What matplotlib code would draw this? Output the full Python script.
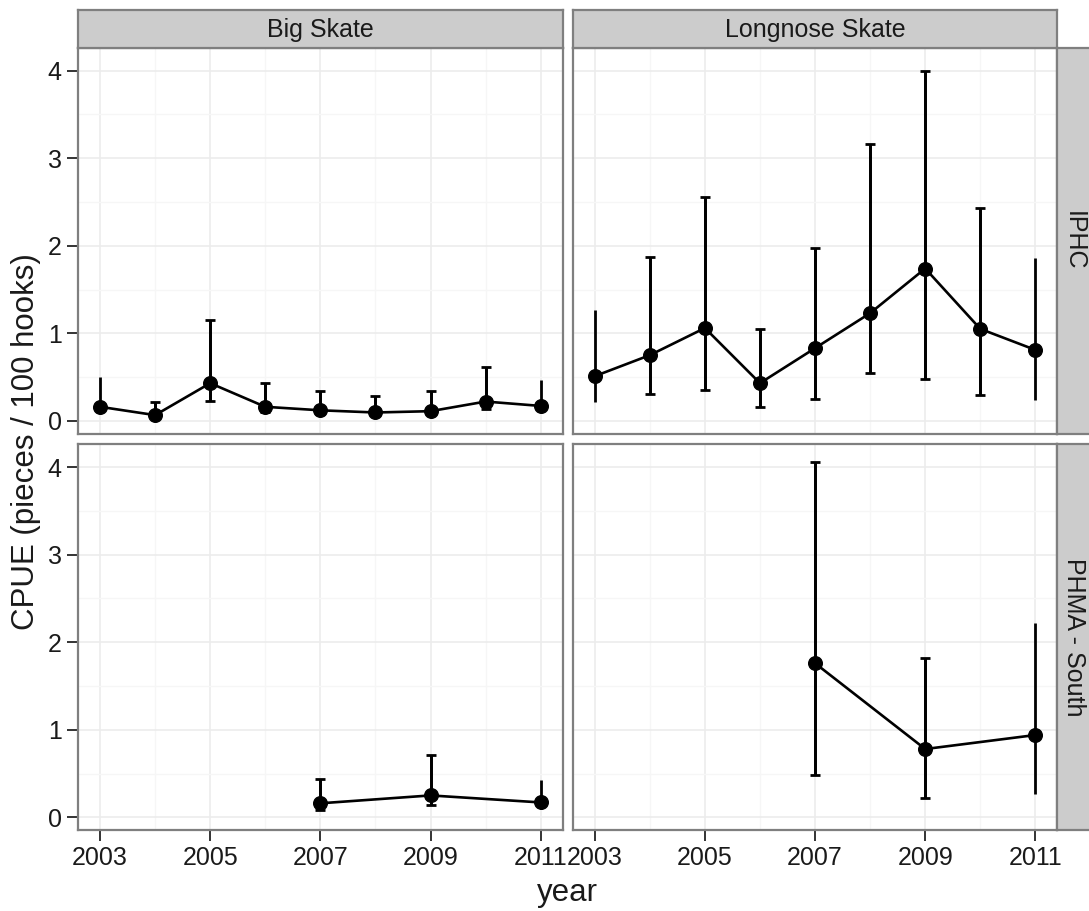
import matplotlib
matplotlib.use('Agg')
import matplotlib.pyplot as plt
from matplotlib.ticker import MultipleLocator, FixedLocator
import numpy as np

plt.rcParams['font.family'] = ['Liberation Sans', 'DejaVu Sans']

# ---------------- data ----------------
years = [2003, 2004, 2005, 2006, 2007, 2008, 2009, 2010, 2011]
big_iphc = [0.16, 0.065, 0.43, 0.16, 0.12, 0.095, 0.11, 0.22, 0.17]
big_iphc_lo = [0.10, 0.04, 0.23, 0.10, 0.08, 0.065, 0.08, 0.13, 0.10]
big_iphc_hi = [0.50, 0.21, 1.15, 0.43, 0.34, 0.28, 0.34, 0.62, 0.47]

long_iphc = [0.51, 0.75, 1.06, 0.43, 0.83, 1.23, 1.74, 1.05, 0.81]
long_iphc_lo = [0.21, 0.31, 0.35, 0.16, 0.25, 0.55, 0.48, 0.30, 0.24]
long_iphc_hi = [1.27, 1.87, 2.56, 1.05, 1.98, 3.16, 4.00, 2.43, 1.86]

phma_years = [2007, 2009, 2011]
big_phma = [0.16, 0.25, 0.17]
big_phma_lo = [0.08, 0.14, 0.09]
big_phma_hi = [0.44, 0.71, 0.43]

long_phma = [1.76, 0.78, 0.94]
long_phma_lo = [0.48, 0.22, 0.27]
long_phma_hi = [4.06, 1.82, 2.22]

col_labels = ['Big Skate', 'Longnose Skate']
row_labels = ['IPHC', 'PHMA - South']
x_ticks = [2003, 2005, 2007, 2009, 2011]
y_ticks = [0, 1, 2, 3, 4]

panels = {
    (0, 0): (years, big_iphc, big_iphc_lo, big_iphc_hi),
    (0, 1): (years, long_iphc, long_iphc_lo, long_iphc_hi),
    (1, 0): (phma_years, big_phma, big_phma_lo, big_phma_hi),
    (1, 1): (phma_years, long_phma, long_phma_lo, long_phma_hi),
}

# ---------------- layout ----------------
W, H = 1089, 911
fig = plt.figure(figsize=(W / 100, H / 100), dpi=100)

col_x = [78, 572.7]
col_w = 484.7
row_top = [47.5, 444]
row_h = 386
strip_h = 38
border = '#7f7f7f'
tick_col = '#333333'
fs_tick = 18
fs_title = 22.5

def fx(px):
    return px / W

def fy(py):
    return 1 - py / H

for (r, c), (xs, ys, lo, hi) in panels.items():
    ax = fig.add_axes([fx(col_x[c]), fy(row_top[r] + row_h), fx(col_w), row_h / H])
    ax.set_xlim(2002.6, 2011.4)
    ax.set_ylim(-0.145, 4.265)
    ax.xaxis.set_major_locator(FixedLocator(x_ticks))
    ax.xaxis.set_minor_locator(MultipleLocator(1))
    ax.yaxis.set_major_locator(FixedLocator(y_ticks))
    ax.yaxis.set_minor_locator(MultipleLocator(0.5))
    ax.grid(which='major', color='#ececec', linewidth=1.2, zorder=0)
    ax.grid(which='minor', color='#f6f6f6', linewidth=1.0, zorder=0)
    ax.set_axisbelow(True)
    for s in ax.spines.values():
        s.set_color(border)
        s.set_linewidth(1.6)
    ax.tick_params(which='minor', length=0)
    ax.tick_params(which='major', direction='out', length=7.7, width=1.4,
                   color=tick_col, labelsize=fs_tick, labelcolor='#1a1a1a', pad=4)
    if r == 0:
        ax.tick_params(axis='x', which='major', length=0, labelbottom=False)
    if c == 1:
        ax.tick_params(axis='y', which='major', length=0, labelleft=False)

    xs_a = np.array(xs)
    ys_a = np.array(ys)
    lo_a = np.array(lo)
    hi_a = np.array(hi)
    err = [ys_a - lo_a, hi_a - ys_a]
    # all error bars (no caps)
    ax.errorbar(xs_a, ys_a, yerr=err, fmt='none', ecolor='black',
                elinewidth=2.0, capsize=0, zorder=2)
    # caps for interior years
    m = (xs_a != min(years)) & (xs_a != max(years))
    ax.errorbar(xs_a[m], ys_a[m], yerr=[e[m] for e in err], fmt='none',
                ecolor='black', elinewidth=2.0, capsize=3.6, capthick=2.0,
                zorder=2)
    ax.plot(xs_a, ys_a, color='black', linewidth=1.9, zorder=3)
    ax.plot(xs_a, ys_a, 'o', color='black', markersize=9.8, zorder=4)

# column strips
for c, lab in enumerate(col_labels):
    sax = fig.add_axes([fx(col_x[c]), fy(row_top[0]), fx(col_w), strip_h / H])
    sax.set_facecolor('#cccccc')
    sax.set_xticks([]); sax.set_yticks([])
    for s in sax.spines.values():
        s.set_color(border); s.set_linewidth(1.6)
    sax.text(0.5, 0.47, lab, transform=sax.transAxes, ha='center', va='center',
             fontsize=fs_tick, color='#1a1a1a')

# row strips
sx = col_x[1] + col_w
for r, lab in enumerate(row_labels):
    sax = fig.add_axes([fx(sx), fy(row_top[r] + row_h), fx(40), row_h / H])
    sax.set_facecolor('#cccccc')
    sax.set_xticks([]); sax.set_yticks([])
    for s in sax.spines.values():
        s.set_color(border); s.set_linewidth(1.6)
    sax.text((1089 - sx) / 2 / 40 + 0.02, 0.5, lab, transform=sax.transAxes,
             ha='center', va='center', rotation=-90, fontsize=fs_tick,
             color='#1a1a1a')

fig.text(fx(26), fy(441.5), 'CPUE (pieces / 100 hooks)', rotation=90,
         ha='center', va='center', fontsize=fs_title, color='#1a1a1a')
fig.text(fx(567.5), fy(901), 'year', ha='center', va='baseline',
         fontsize=fs_title, color='#1a1a1a')

fig.savefig('out.png', dpi=100, facecolor='white')
